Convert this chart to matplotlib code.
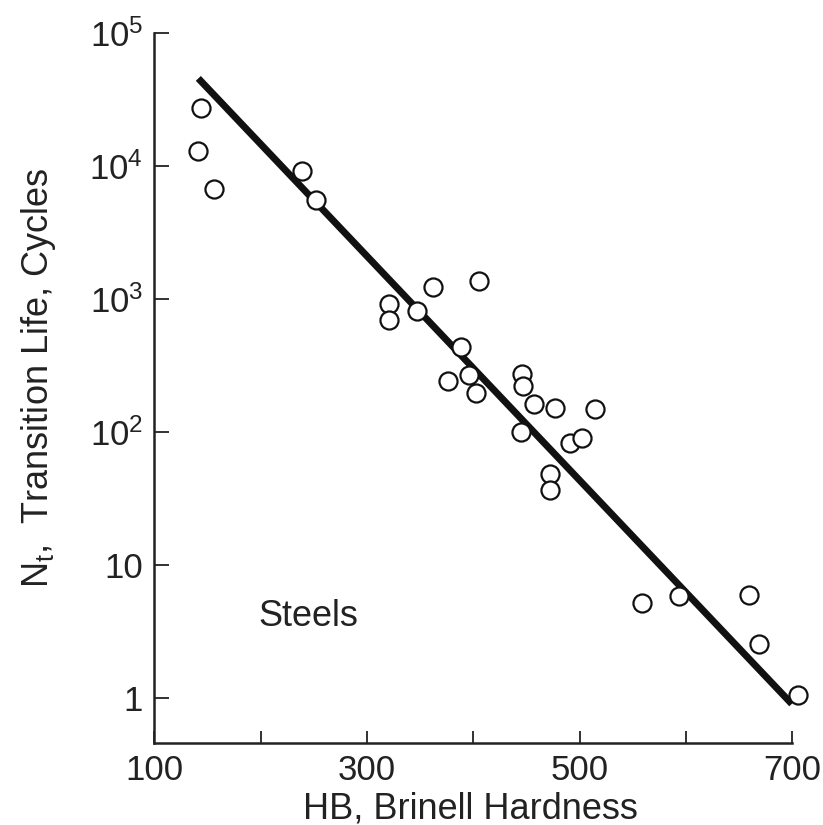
import matplotlib
matplotlib.use('Agg')
from matplotlib import pyplot as plt
from matplotlib.ticker import FixedLocator, FixedFormatter, NullLocator

plt.rcParams['font.family'] = ['Liberation Sans', 'DejaVu Sans']
plt.rcParams['mathtext.fontset'] = 'custom'
plt.rcParams['mathtext.rm'] = 'Liberation Sans'
plt.rcParams['mathtext.it'] = 'Liberation Sans:italic'

# steels: Brinell hardness vs transition life
hb = [143.9, 140.8, 156.4, 238.6, 251.8, 321.0, 321.0, 347.3, 361.8, 405.4,
      388.7, 376.5, 396.2, 402.5, 446.1, 446.7, 456.8, 477.1, 514.7, 444.9,
      491.0, 502.0, 472.1, 472.1, 558.9, 593.2, 659.0, 669.0, 705.7]
nt = [27500, 13060, 6760, 9190, 5530, 912, 695, 812, 1238, 1373,
      433, 243, 268, 195, 273, 221, 161, 152, 150, 100,
      82, 89.5, 48, 36.5, 5.19, 5.82, 5.89, 2.54, 1.05]

# fitted line end points
line_hb = [141.4, 699.5]
line_nt = [45800, 0.897]

yticks = [1, 10, 100, 1000, 10000, 100000]
ytick_labels = ['1', '10', r'$\mathregular{10^2}$', r'$\mathregular{10^3}$',
                r'$\mathregular{10^4}$', r'$\mathregular{10^5}$']
xticks = [100, 200, 300, 400, 500, 600, 700]
xtick_labels = ['100', '', '300', '', '500', '', '700']

fig = plt.figure(figsize=(8.23, 8.25), dpi=100)
ax = fig.add_axes([0.1875, 0.0998, 0.7752, 0.8598])

ax.plot(line_hb, line_nt, color='#111111', lw=5, solid_capstyle='butt', zorder=2)
ax.plot(hb, nt, 'o', ms=13, mfc='white', mec='#111111', mew=1.6,
        clip_on=False, zorder=3)

ax.set_yscale('log')
ax.set_xlim(100, 700)
ax.set_ylim(10 ** -0.339, 1e5)

ax.yaxis.set_major_locator(FixedLocator(yticks))
ax.yaxis.set_major_formatter(FixedFormatter(ytick_labels))
ax.yaxis.set_minor_locator(NullLocator())
ax.xaxis.set_major_locator(FixedLocator(xticks))
ax.xaxis.set_major_formatter(FixedFormatter(xtick_labels))

ax.spines['top'].set_visible(False)
ax.spines['right'].set_visible(False)
for s in ['left', 'bottom']:
    ax.spines[s].set_linewidth(1.8)
    ax.spines[s].set_color('#222222')

ax.tick_params(axis='y', direction='in', length=11, width=1.3, labelsize=25,
               pad=8, colors='#222222')
ax.tick_params(axis='x', direction='in', length=9, width=1.3, labelsize=25,
               pad=8, colors='#222222')

ax.set_xlabel('HB, Brinell Hardness', fontsize=26, color='#222222')
ax.xaxis.set_label_coords(0.496, -0.069)
ax.set_ylabel(r'$\mathregular{N_t}$,  Transition Life, Cycles', fontsize=26,
              color='#222222')
ax.yaxis.set_label_coords(-0.151, 0.514)

ax.text(197.5, 4.1, 'Steels', fontsize=26, color='#222222', va='center', ha='left')

plt.savefig('out.png', dpi=100)
